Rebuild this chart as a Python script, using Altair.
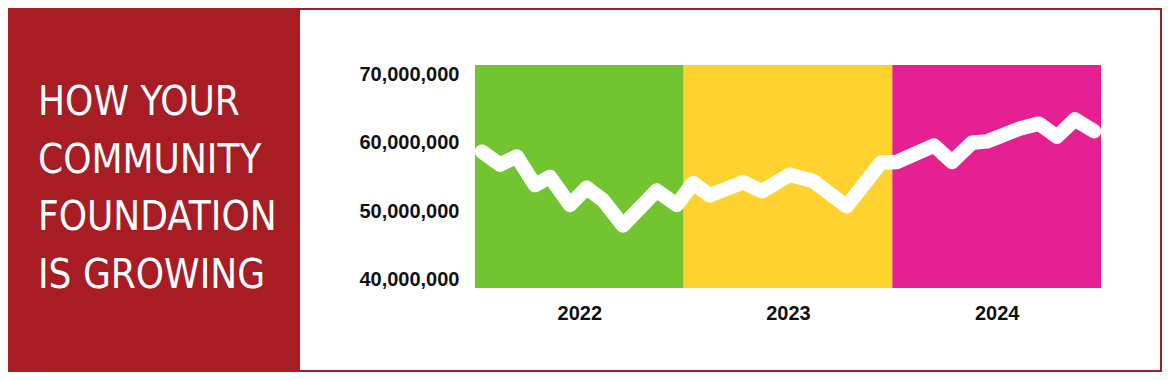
import json
import altair as alt
import pandas as pd

# ---- data ----
years = ["2022", "2023", "2024"]
band_colors = ["#72C531", "#FFD22F", "#E61F92"]
band_start = [0, 12, 24]
band_end = [12, 24, 36]

# months since Jan 2022 (vertex positions) and fund value in dollars
months = [0.4, 1.44, 2.4, 3.45, 4.31, 5.46, 6.42, 7.36, 8.51, 10.45, 11.6,
          12.54, 13.51, 15.41, 16.5, 18.1, 19.44, 21.37, 23.35, 24.27, 26.4,
          27.43, 28.58, 29.44, 31.34, 32.43, 33.47, 34.5, 35.6]
values = [58_700_000, 56_800_000, 58_000_000, 53_800_000, 55_000_000,
          50_900_000, 53_400_000, 51_600_000, 47_900_000, 53_000_000,
          50_900_000, 54_100_000, 52_300_000, 54_200_000, 52_900_000,
          55_300_000, 54_400_000, 50_700_000, 57_100_000, 57_200_000,
          59_600_000, 57_200_000, 60_000_000, 60_200_000, 62_100_000,
          62_800_000, 60_900_000, 63_400_000, 61_700_000]
y_ticks = [40_000_000, 50_000_000, 60_000_000, 70_000_000]
title_lines = ["HOW YOUR", "COMMUNITY", "FOUNDATION", "IS GROWING"]

RED = "#A81C24"
W, H = 626, 223

bands = pd.DataFrame({"year": years, "start": band_start, "end": band_end,
                      "color": band_colors})
series = pd.DataFrame({"month": months, "value": values})

xscale = alt.Scale(domain=[0, 36], nice=False, zero=False)
yscale = alt.Scale(domain=[38_730_000, 71_390_000], nice=False, zero=False)

panel = alt.Chart(pd.DataFrame({"k": [0]})).mark_rect(color="white").encode(
    x=alt.value(-175), x2=alt.value(685), y=alt.value(-55), y2=alt.value(305)
)

band_layer = alt.Chart(bands).mark_rect().encode(
    x=alt.X("start:Q", scale=xscale,
            axis=alt.Axis(title=None, values=[6, 18, 30],
                          labelExpr=json.dumps(years) + "[floor(datum.value / 12)]",
                          labelFont="Liberation Sans", labelFontSize=20,
                          labelFontWeight="bold", labelColor="#111111",
                          labelPadding=15, ticks=False, tickSize=0,
                          domain=False, grid=False, zindex=2)),
    x2="end:Q",
    y=alt.value(0), y2=alt.value(H),
    color=alt.Color("color:N", scale=None),
)

line = alt.Chart(series).mark_line(
    color="white", strokeWidth=14.5, strokeCap="round", strokeJoin="round"
).encode(
    x=alt.X("month:Q", scale=xscale),
    y=alt.Y("value:Q", scale=yscale,
            axis=alt.Axis(title=None, values=y_ticks, format=",d",
                          labelFont="Liberation Sans", labelFontSize=20,
                          labelFontWeight="bold", labelColor="#111111",
                          labelPadding=16, ticks=False, tickSize=0,
                          domain=False, grid=False, zindex=2)),
)

title = alt.Chart(pd.DataFrame({"k": [0]})).mark_text(
    text=title_lines, align="left", baseline="alphabetic",
    font="DejaVu Sans Condensed, Roboto, sans-serif", fontSize=40,
    lineHeight=57.7, color="white"
).encode(x=alt.value(-437), y=alt.value(50))

chart = alt.layer(panel, band_layer, line, title).properties(
    width=W, height=H,
    autosize=alt.AutoSizeParams(type="none"),
    padding={"left": 467, "top": 57, "right": 61, "bottom": 84},
    background=RED,
).configure_view(stroke=None)

chart.save("out.html", embed_options={"renderer": "svg", "actions": False})
